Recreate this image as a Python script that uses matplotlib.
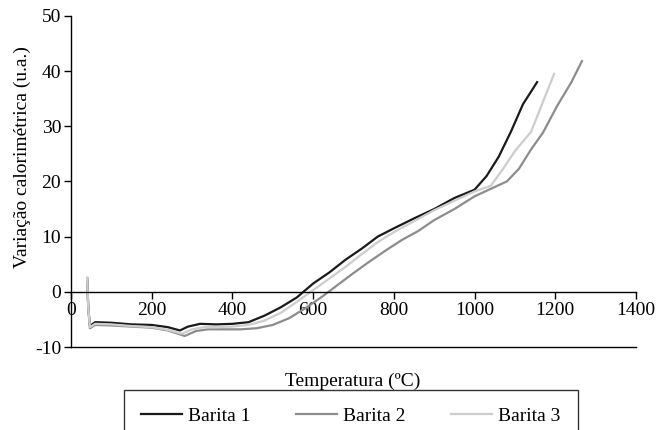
import matplotlib
matplotlib.use("Agg")
import matplotlib.pyplot as plt

plt.rcParams['font.family'] = ['Liberation Serif', 'DejaVu Serif']
plt.rcParams['axes.unicode_minus'] = False

# Barita 1 (black)
t1 = [40, 43, 47, 60, 100, 150, 200, 240, 270, 290, 320, 360, 400, 440, 480, 520,
      560, 600, 640, 680, 720, 760, 800, 850, 900, 950, 1000, 1030, 1060, 1090, 1120, 1155]
v1 = [2.5, -3, -6.2, -5.5, -5.6, -5.9, -6.0, -6.4, -7.0, -6.3, -5.8, -5.9, -5.8, -5.5, -4.3, -2.8,
      -1.0, 1.5, 3.5, 5.8, 7.8, 10.0, 11.5, 13.3, 15.0, 17.0, 18.5, 21.0, 24.5, 29.0, 34.0, 38.0]

# Barita 2 (mid gray)
t2 = [40, 43, 47, 60, 100, 150, 200, 240, 282, 310, 340, 380, 420, 460, 500, 540, 580, 620,
      660, 700, 740, 780, 820, 860, 900, 950, 1000, 1050, 1080, 1110, 1140, 1170, 1204, 1240, 1266]
v2 = [2.5, -3, -6.6, -6.0, -6.1, -6.3, -6.5, -7.0, -8.0, -7.1, -6.8, -6.8, -6.8, -6.6, -6.0, -4.8, -3.0, -1.0,
      1.2, 3.4, 5.5, 7.5, 9.4, 11.0, 13.0, 15.0, 17.3, 19.0, 20.0, 22.3, 25.8, 28.9, 33.6, 38.0, 41.8]

# Barita 3 (light gray)
t3 = [40, 43, 47, 60, 100, 150, 200, 240, 275, 300, 330, 360, 400, 440, 480, 520, 560,
      600, 640, 680, 720, 760, 800, 850, 900, 950, 1000, 1040, 1070, 1100, 1140, 1170, 1197]
v3 = [2.5, -3, -6.4, -5.8, -5.9, -6.2, -6.4, -6.9, -7.6, -6.8, -6.4, -6.4, -6.3, -6.0, -5.2, -3.8, -1.8,
      0.3, 2.4, 4.5, 6.8, 9.0, 10.8, 12.8, 14.8, 16.5, 18.2, 19.2, 22.2, 25.5, 29.0, 34.5, 39.5]

fig = plt.figure(figsize=(6.57, 4.30), dpi=100)
ax = fig.add_axes([0.108, 0.193, 0.860, 0.770])

ax.plot(t1, v1, color="#1a1a1a", lw=1.6, label="Barita 1")
ax.plot(t2, v2, color="#8c8c8c", lw=1.6, label="Barita 2")
ax.plot(t3, v3, color="#cdcdcd", lw=1.6, label="Barita 3")

ax.set_xlim(0, 1400)
ax.set_ylim(-10, 50)
ax.set_xticks(range(0, 1401, 200))
ax.set_yticks(range(-10, 51, 10))

ax.spines['top'].set_visible(False)
ax.spines['right'].set_visible(False)
ax.spines['bottom'].set_position(('data', 0))
for s in ['left', 'bottom']:
    ax.spines[s].set_linewidth(1.0)
ax.plot([0, 1400], [-10, -10], color="black", lw=1.0, clip_on=False)

ax.tick_params(axis='both', direction='out', length=5, width=1.0, labelsize=14, pad=2)

fig.text(0.537, 0.112, "Temperatura (ºC)", ha="center", va="center", fontsize=14)
fig.text(0.034, 0.634, "Variação calorimétrica (u.a.)", ha="center", va="center",
         rotation=90, fontsize=14)

leg = fig.legend(loc="upper center", bbox_to_anchor=(0.534, 1 - 390 / 430), ncol=3,
                 fontsize=14, frameon=True, fancybox=False, edgecolor="black",
                 handlelength=2.1, handletextpad=0.3, columnspacing=2.35, borderpad=0.9,
                 borderaxespad=0)
leg.get_frame().set_linewidth(1.0)

fig.savefig("out.png", dpi=100)
